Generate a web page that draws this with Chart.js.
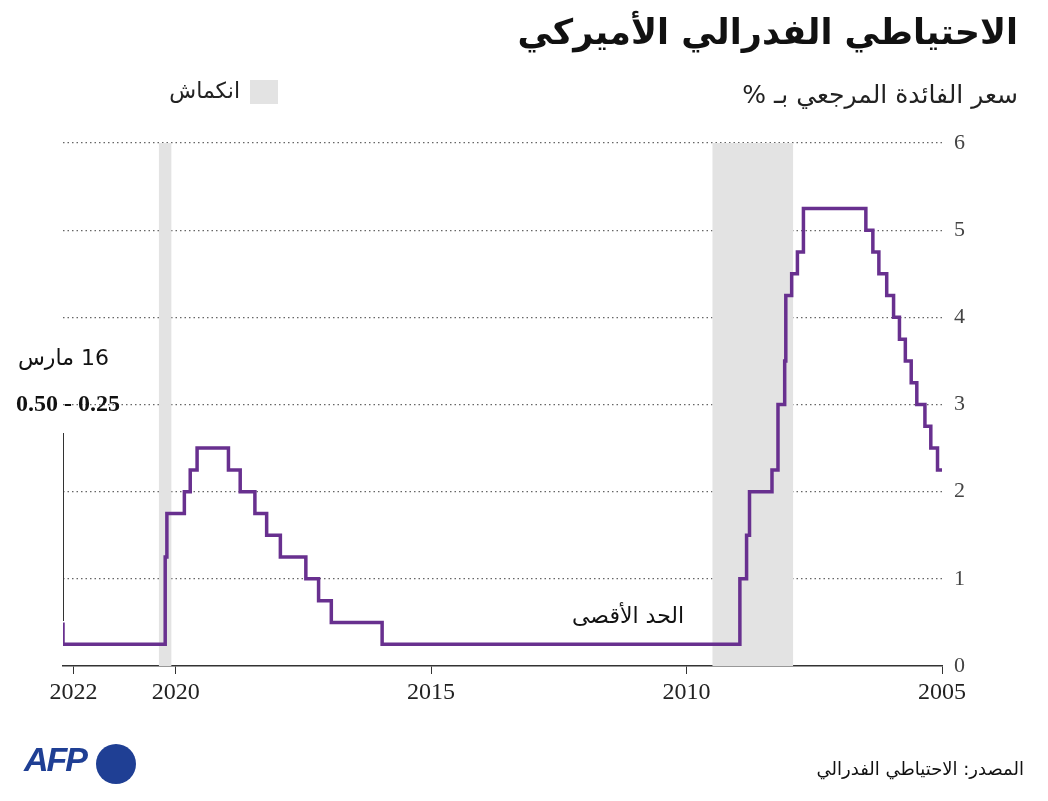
<!DOCTYPE html>
<html><head><meta charset="utf-8">
<script src="https://cdn.jsdelivr.net/npm/chart.js@4"></script>
<style>
body{margin:0;width:1048px;height:801px;background:#fff;position:relative;overflow:hidden;font-family:"DejaVu Sans",sans-serif}
.t{position:absolute;white-space:nowrap}
</style></head><body>
<canvas id="c" width="1048" height="801" style="position:absolute;left:0;top:0"></canvas>
<div class="t" dir="rtl" style="right:30px;top:12px;font-size:35px;font-weight:bold;color:#111">الاحتياطي الفدرالي الأميركي</div>
<div class="t" dir="rtl" style="right:30px;top:80px;font-size:25px;color:#222">سعر الفائدة المرجعي بـ %</div>
<div class="t" style="left:250px;top:80px;width:28px;height:24px;background:#e3e3e3"></div>
<div class="t" dir="rtl" style="right:808px;top:78px;font-size:22px;color:#222">انكماش</div>
<div class="t" dir="rtl" style="left:572px;top:603px;font-size:22px;color:#111">الحد الأقصى</div>
<div class="t" dir="rtl" style="left:18px;top:345px;font-size:22px;color:#111">16 مارس</div>
<div class="t" style="left:16px;top:390px;font-size:24px;font-weight:bold;color:#111;font-family:'Liberation Serif',serif">0.50 - 0.25</div>
<div class="t" style="left:63px;top:433px;width:1px;height:188px;background:#333"></div>
<div class="t" style="left:24px;top:740px;font-size:34px;font-weight:900;color:#1f3f94;font-family:'Liberation Sans',sans-serif;font-style:italic;letter-spacing:-2px">AFP</div>
<div class="t" style="left:96px;top:744px;width:40px;height:40px;border-radius:50%;background:#1f3f94"></div>
<div class="t" dir="rtl" style="right:24px;top:758px;font-size:18px;color:#111">المصدر: الاحتياطي الفدرالي</div>
<script>
const changeDates=["2005-01-01","2005-02-02","2005-03-22","2005-05-03","2005-06-30","2005-08-09","2005-09-20","2005-11-01","2005-12-13","2006-01-31","2006-03-28","2006-05-10","2006-06-29","2007-09-18","2007-10-31","2007-12-11","2008-01-22","2008-01-30","2008-03-18","2008-04-30","2008-10-08","2008-10-29","2008-12-16","2015-12-17","2016-12-15","2017-03-16","2017-06-15","2017-12-14","2018-03-22","2018-06-14","2018-09-27","2018-12-20","2019-08-01","2019-09-19","2019-10-31","2020-03-04","2020-03-16","2022-03-17"];
const upperRate=[2.25,2.5,2.75,3,3.25,3.5,3.75,4,4.25,4.5,4.75,5,5.25,4.75,4.5,4.25,3.5,3,2.25,2,1.5,1,0.25,0.5,0.75,1,1.25,1.5,1.75,2,2.25,2.5,2.25,2,1.75,1.25,0.25,0.5];
const recessions=[["2007-12-01","2009-06-30"],["2020-02-01","2020-04-30"]];
const yearTicks=[2005,2010,2015,2020,2022];
function dy(s){const d=new Date(s+"T00:00:00Z");const y=d.getUTCFullYear();return y+(d-Date.UTC(y,0,1))/(Date.UTC(y+1,0,1)-Date.UTC(y,0,1));}
const pts=changeDates.map((d,i)=>({x:dy(d),y:upperRate[i]}));
const bands={id:'bands',beforeDatasetsDraw(ch){const {ctx,chartArea:a,scales:{x}}=ch;ctx.save();ctx.fillStyle='#e3e3e3';
recessions.forEach(r=>{const x1=x.getPixelForValue(dy(r[0])),x2=x.getPixelForValue(dy(r[1]));ctx.fillRect(Math.min(x1,x2),a.top,Math.abs(x2-x1),a.bottom-a.top);});ctx.restore();}};
new Chart(document.getElementById('c'),{type:'line',
data:{datasets:[{data:pts,stepped:'before',borderColor:'#68308f',borderWidth:3.5,pointRadius:0,fill:false}]},
options:{responsive:false,animation:false,layout:{padding:{left:63,right:36,top:143,bottom:85}},
plugins:{legend:{display:false},tooltip:{enabled:false}},
scales:{x:{type:'linear',reverse:true,min:2005,max:dy("2022-03-17"),
afterBuildTicks(s){s.ticks=yearTicks.map(v=>({value:v}));},
afterFit(s){s.height=50;},
ticks:{color:'#222',font:{family:'Liberation Serif',size:24},maxRotation:0,padding:4,callback:v=>String(v)},
grid:{drawOnChartArea:false,tickLength:8,color:'#333'},border:{color:'#333',width:1.5}},
y:{position:'right',min:0,max:6,afterFit(s){s.width=70;},
ticks:{stepSize:1,color:'#444',font:{family:'Liberation Serif',size:22},padding:12},
grid:{color:c=>c.tick.value===0?'rgba(0,0,0,0)':'#666',lineWidth:1.2,drawTicks:false},border:{display:false,dash:[1.5,3]}}}},
plugins:[bands]});
</script></body></html>
